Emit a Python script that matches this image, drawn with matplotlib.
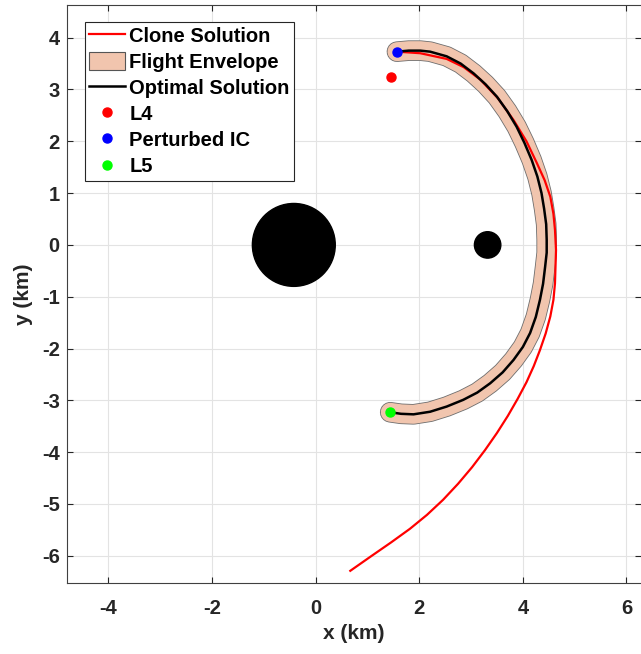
import matplotlib
matplotlib.use("Agg")
import matplotlib.pyplot as plt
from matplotlib.patches import Circle, Patch
from matplotlib.lines import Line2D

plt.rcParams['font.family'] = ['Liberation Sans', 'DejaVu Sans']
plt.rcParams['font.weight'] = 'bold'
plt.rcParams['axes.unicode_minus'] = False

# optimal trajectory (km)
opt_x = [1.57, 1.80, 2.02, 2.21, 2.53, 2.80, 3.05, 3.28, 3.50, 3.70, 3.88, 4.03,
         4.17, 4.28, 4.36, 4.41, 4.45, 4.46, 4.46, 4.43, 4.39, 4.33, 4.25, 4.14,
         4.00, 3.82, 3.61, 3.37, 3.12, 2.85, 2.53, 2.21, 1.89, 1.65, 1.44]
opt_y = [3.73, 3.75, 3.75, 3.73, 3.64, 3.50, 3.31, 3.10, 2.86, 2.58, 2.28, 1.97,
         1.64, 1.32, 1.00, 0.70, 0.40, 0.10, -0.15, -0.42, -0.75, -1.06, -1.39, -1.70,
         -1.97, -2.22, -2.46, -2.67, -2.85, -2.99, -3.12, -3.22, -3.27, -3.26, -3.23]

# clone trajectory (km)
clone_x = [1.57, 2.02, 2.53, 2.86, 3.18, 3.52, 3.82, 4.07, 4.27, 4.42, 4.53, 4.59,
           4.62, 4.64, 4.62, 4.59, 4.53, 4.44, 4.33, 4.21, 4.07, 3.90, 3.71, 3.50,
           3.27, 3.02, 2.75, 2.46, 2.15, 1.82, 1.46, 1.07, 0.67]
clone_y = [3.73, 3.70, 3.59, 3.43, 3.19, 2.83, 2.41, 2.00, 1.58, 1.25, 0.93, 0.60,
           0.29, -0.10, -0.74, -1.06, -1.38, -1.71, -2.03, -2.34, -2.65, -2.97, -3.30, -3.63,
           -3.96, -4.29, -4.61, -4.92, -5.21, -5.48, -5.74, -6.01, -6.29]

# primaries (center x, radius)
primary1 = (-0.42, 0.80)
primary2 = (3.32, 0.255)

L4 = (1.45, 3.24)
L5 = (1.44, -3.23)
perturbed_ic = (1.57, 3.73)

env_color = '#f1c5ae'

fig = plt.figure(figsize=(6.41, 6.54), dpi=100)
ax = fig.add_axes([0.1039, 0.109, 0.8961, 0.8833])

# flight envelope as a wide band around the optimal path
ax.plot(opt_x, opt_y, color='#6e6e6e', lw=14.8, solid_capstyle='round',
        solid_joinstyle='round', zorder=2)
ax.plot(opt_x, opt_y, color=env_color, lw=13.6, solid_capstyle='round',
        solid_joinstyle='round', zorder=2.1)
ax.plot(clone_x, clone_y, color='red', lw=1.6, zorder=3)
ax.plot(opt_x, opt_y, color='black', lw=1.8, zorder=3.5)

ax.add_patch(Circle((primary1[0], 0), primary1[1], color='black', zorder=2))
ax.add_patch(Circle((primary2[0], 0), primary2[1], color='black', zorder=2))

ax.plot(L4[0], L4[1], 'o', color='red', ms=6.5, zorder=4)
ax.plot(perturbed_ic[0], perturbed_ic[1], 'o', color='blue', ms=6.5, zorder=4)
ax.plot(L5[0], L5[1], 'o', color='#00ff00', ms=6.5, zorder=4)

ax.set_xlim(-4.805, 6.28)
ax.set_ylim(-6.52, 4.63)
ax.set_xticks([-4, -2, 0, 2, 4, 6])
ax.set_yticks(range(-6, 5))

ax.grid(True, color='#e3e3e3', lw=0.8)
ax.set_axisbelow(True)
ax.tick_params(direction='in', top=True, right=True, length=4, width=0.8,
               colors='#262626', labelsize=14.5)
ax.tick_params(axis='x', pad=12)
ax.tick_params(axis='y', pad=5)
for side in ['left', 'bottom', 'top']:
    ax.spines[side].set_color('#404040')
    ax.spines[side].set_linewidth(0.8)
ax.spines['right'].set_visible(False)

ax.set_xlabel('x (km)', fontsize=15, fontweight='bold', color='#262626', labelpad=4)
ax.set_ylabel('y (km)', fontsize=15, fontweight='bold', color='#262626', labelpad=6)

handles = [
    Line2D([], [], color='red', lw=1.6),
    Patch(facecolor=env_color, edgecolor='#555555', lw=0.8),
    Line2D([], [], color='black', lw=1.8),
    Line2D([], [], ls='none', marker='o', color='red', ms=6.5),
    Line2D([], [], ls='none', marker='o', color='blue', ms=6.5),
    Line2D([], [], ls='none', marker='o', color='#00ff00', ms=6.5),
]
labels = ['Clone Solution', 'Flight Envelope', 'Optimal Solution', 'L4', 'Perturbed IC', 'L5']
leg = ax.legend(handles, labels, loc='upper left', bbox_to_anchor=(0.032, 0.971),
                borderaxespad=0, fancybox=False, edgecolor='#262626', framealpha=1,
                prop={'size': 14.5, 'weight': 'bold'}, handlelength=1.8, handleheight=1.0,
                handletextpad=0.2, labelspacing=0.31, borderpad=0.2)
leg.get_frame().set_linewidth(0.8)

fig.savefig('out.png', dpi=100)
